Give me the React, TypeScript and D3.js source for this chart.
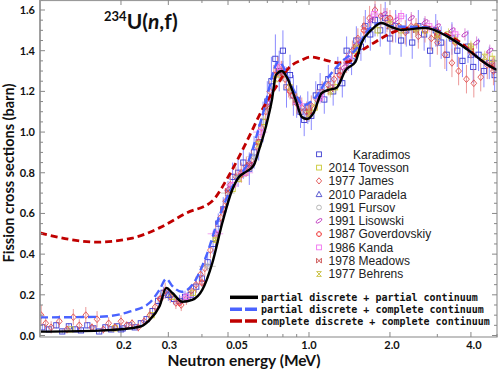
import React from 'react';
import * as d3 from 'd3';

const W = 500;
const H = 370;
const X0 = 40;
const X1 = 497;
const Y0 = 337;
const Y1 = 0;

// axis ticks
const xTickValues = [0.2, 0.3, 0.5, 1, 2, 4];
const xTickLabels = ['0.2', '0.3', '0.05', '1.0', '2.0', '4.0'];
const xLabelShift = [3, 1, 9, 0, 2, 3];
const xMinorValues = [0.2, 0.3, 0.4, 0.5, 0.6, 0.7, 0.8, 0.9, 1, 2, 3, 4, 5];
const yTickValues = [0, 0.2, 0.4, 0.6, 0.8, 1.0, 1.2, 1.4, 1.6];

// model curves [E (MeV), sigma (b)]
const partialPartial = [
  [0.1, 0.019], [0.1667, 0.024], [0.2344, 0.043], [0.2552, 0.076], [0.2779, 0.142],
  [0.2949, 0.234], [0.3106, 0.209], [0.338, 0.166], [0.368, 0.175], [0.401, 0.224],
  [0.437, 0.356], [0.476, 0.553], [0.518, 0.715], [0.55, 0.78], [0.575, 0.80],
  [0.6, 0.815], [0.625, 0.84], [0.6515, 0.911], [0.691, 1.025], [0.728, 1.157],
  [0.754, 1.281], [0.793, 1.3], [0.826, 1.271], [0.893, 1.157], [0.94, 1.074],
  [0.982, 1.064], [1.04, 1.094], [1.115, 1.192], [1.182, 1.207], [1.265, 1.217],
  [1.369, 1.305], [1.488, 1.345], [1.567, 1.438], [1.706, 1.502], [1.858, 1.536],
  [2.022, 1.517], [2.203, 1.502], [2.704, 1.512], [3.288, 1.468], [3.898, 1.404],
  [4.622, 1.33], [5.0, 1.305],
];

const partialComplete = [
  [0.1, 0.089], [0.1667, 0.092], [0.2152, 0.117], [0.2552, 0.16], [0.2779, 0.224],
  [0.2949, 0.278], [0.3106, 0.243], [0.336, 0.215], [0.368, 0.248], [0.414, 0.387],
  [0.4634, 0.584], [0.518, 0.731], [0.5983, 0.863], [0.669, 1.074], [0.7725, 1.345],
  [0.865, 1.222], [0.955, 1.133], [1.059, 1.172], [1.182, 1.271], [1.321, 1.345],
  [1.488, 1.404], [1.663, 1.502], [1.858, 1.536], [2.022, 1.52], [2.704, 1.515],
  [3.288, 1.47], [3.898, 1.405], [4.622, 1.33], [5.0, 1.305],
];

const completeComplete = [
  [0.1, 0.504], [0.1626, 0.459], [0.2207, 0.479], [0.2779, 0.529], [0.35, 0.602],
  [0.437, 0.661], [0.5046, 0.788], [0.5983, 0.976], [0.669, 1.108], [0.754, 1.222],
  [0.8411, 1.315], [0.94, 1.354], [1.01, 1.369], [1.15, 1.354], [1.288, 1.34],
  [1.402, 1.345], [1.527, 1.389], [1.765, 1.443], [2.022, 1.487], [2.339, 1.512],
  [2.704, 1.517], [3.097, 1.492], [3.672, 1.438], [4.355, 1.354], [5.0, 1.305],
];

// experiments [E, sigma, dSigma, dE]
const karadimos = [
  [0.102, 0.04, 0.015, 0], [0.108, 0.03, 0.012, 0], [0.115, 0.05, 0.015, 0], [0.121, 0.02, 0.01, 0],
  [0.128, 0.045, 0.015, 0], [0.135, 0.03, 0.012, 0], [0.142, 0.025, 0.01, 0], [0.15, 0.05, 0.015, 0],
  [0.158, 0.035, 0.012, 0], [0.166, 0.02, 0.01, 0], [0.175, 0.04, 0.012, 0], [0.184, 0.03, 0.01, 0],
  [0.193, 0.045, 0.012, 0], [0.203, 0.035, 0.01, 0], [0.214, 0.05, 0.012, 0], [0.225, 0.04, 0.012, 0],
  [0.237, 0.06, 0.015, 0], [0.249, 0.08, 0.015, 0], [0.262, 0.12, 0.02, 0], [0.275, 0.17, 0.025, 0],
  [0.288, 0.21, 0.03, 0], [0.3, 0.2, 0.03, 0], [0.315, 0.18, 0.03, 0], [0.33, 0.17, 0.03, 0],
  [0.346, 0.19, 0.03, 0], [0.363, 0.2, 0.03, 0], [0.381, 0.24, 0.03, 0], [0.4, 0.28, 0.04, 0],
  [0.42, 0.36, 0.04, 0], [0.44, 0.45, 0.05, 0], [0.46, 0.55, 0.05, 0], [0.48, 0.62, 0.06, 0],
  [0.5, 0.7, 0.06, 0], [0.52, 0.78, 0.07, 0], [0.545, 0.8, 0.07, 0], [0.57, 0.85, 0.08, 0],
  [0.6, 0.82, 0.08, 0], [0.625, 0.9, 0.08, 0], [0.65, 0.95, 0.09, 0], [0.675, 1.05, 0.1, 0],
  [0.7, 1.15, 0.1, 0], [0.725, 1.25, 0.12, 0], [0.75, 1.36, 0.12, 0], [0.775, 1.3, 0.1, 0],
  [0.8, 1.4, 0.1, 0], [0.825, 1.22, 0.1, 0], [0.85, 1.28, 0.1, 0], [0.875, 1.18, 0.1, 0],
  [0.9, 1.15, 0.08, 0], [0.93, 1.1, 0.08, 0], [0.96, 1.06, 0.08, 0], [0.99, 1.12, 0.08, 0],
  [1.02, 1.08, 0.07, 0], [1.06, 1.18, 0.07, 0], [1.1, 1.22, 0.07, 0], [1.14, 1.16, 0.07, 0],
  [1.18, 1.26, 0.07, 0], [1.23, 1.2, 0.07, 0], [1.28, 1.3, 0.07, 0], [1.33, 1.24, 0.07, 0],
  [1.38, 1.4, 0.07, 0], [1.44, 1.35, 0.07, 0], [1.5, 1.45, 0.07, 0], [1.56, 1.42, 0.07, 0],
  [1.62, 1.52, 0.08, 0], [1.69, 1.48, 0.08, 0], [1.76, 1.55, 0.08, 0], [1.84, 1.5, 0.08, 0],
  [1.92, 1.56, 0.08, 0], [2.0, 1.46, 0.08, 0], [2.1, 1.52, 0.08, 0], [2.2, 1.45, 0.08, 0],
  [2.3, 1.5, 0.08, 0], [2.42, 1.44, 0.08, 0], [2.55, 1.52, 0.08, 0], [2.68, 1.48, 0.08, 0],
  [2.82, 1.4, 0.08, 0], [2.96, 1.5, 0.08, 0], [3.1, 1.44, 0.08, 0], [3.25, 1.38, 0.08, 0],
  [3.4, 1.46, 0.08, 0], [3.56, 1.4, 0.08, 0], [3.72, 1.35, 0.08, 0], [3.9, 1.42, 0.08, 0],
  [4.08, 1.32, 0.08, 0], [4.27, 1.38, 0.08, 0], [4.47, 1.3, 0.08, 0], [4.68, 1.34, 0.08, 0],
  [4.9, 1.28, 0.08, 0],
];

const tovesson = [
  [0.13, 0.03, 0.005, 0], [0.19, 0.035, 0.005, 0], [0.26, 0.1, 0.01, 0], [0.31, 0.19, 0.01, 0],
  [0.37, 0.21, 0.01, 0], [0.45, 0.48, 0.02, 0], [0.52, 0.72, 0.02, 0], [0.58, 0.8, 0.02, 0],
  [0.68, 1.05, 0.03, 0], [0.79, 1.28, 0.03, 0], [0.9, 1.15, 0.03, 0], [1.05, 1.12, 0.03, 0],
  [1.25, 1.22, 0.03, 0], [1.5, 1.4, 0.03, 0], [1.8, 1.5, 0.03, 0], [2.2, 1.5, 0.03, 0],
  [2.7, 1.5, 0.03, 0], [3.3, 1.48, 0.03, 0], [4.0, 1.42, 0.03, 0], [4.8, 1.36, 0.03, 0],
];

const james = [
  [0.101, 0.1, 0.05, 0], [0.105, 0.06, 0.03, 0], [0.11, 0.04, 0.03, 0], [0.118, 0.07, 0.03, 0],
  [0.126, 0.03, 0.02, 0], [0.133, 0.09, 0.04, 0], [0.14, 0.05, 0.03, 0], [0.148, 0.1, 0.04, 0],
  [0.156, 0.04, 0.02, 0], [0.163, 0.08, 0.04, 0], [0.172, 0.03, 0.02, 0], [0.18, 0.06, 0.03, 0],
  [0.19, 0.04, 0.02, 0], [0.2, 0.07, 0.03, 0], [0.21, 0.05, 0.02, 0], [0.22, 0.06, 0.02, 0],
  [0.232, 0.04, 0.02, 0], [0.244, 0.07, 0.02, 0], [0.256, 0.1, 0.03, 0], [0.268, 0.14, 0.03, 0],
  [0.28, 0.18, 0.03, 0], [0.292, 0.22, 0.04, 0], [0.305, 0.19, 0.03, 0], [0.32, 0.16, 0.03, 0],
  [0.335, 0.15, 0.03, 0], [0.35, 0.18, 0.03, 0], [0.365, 0.22, 0.03, 0], [0.38, 0.25, 0.04, 0],
  [0.395, 0.3, 0.04, 0], [0.41, 0.33, 0.04, 0], [0.43, 0.42, 0.04, 0], [0.45, 0.5, 0.05, 0],
  [0.47, 0.58, 0.05, 0], [0.49, 0.66, 0.05, 0], [0.51, 0.74, 0.05, 0], [0.535, 0.78, 0.05, 0],
  [0.56, 0.8, 0.05, 0], [0.585, 0.83, 0.05, 0], [0.61, 0.86, 0.05, 0], [0.64, 0.93, 0.05, 0],
  [0.665, 1.02, 0.05, 0], [0.69, 1.1, 0.05, 0], [0.715, 1.2, 0.05, 0], [0.74, 1.28, 0.05, 0],
  [0.765, 1.32, 0.05, 0], [0.79, 1.3, 0.05, 0], [0.815, 1.26, 0.05, 0], [0.84, 1.22, 0.05, 0],
  [0.87, 1.18, 0.05, 0], [0.9, 1.14, 0.05, 0], [0.94, 1.12, 0.05, 0], [0.98, 1.1, 0.05, 0],
  [1.02, 1.13, 0.05, 0], [1.07, 1.16, 0.05, 0], [1.12, 1.2, 0.05, 0], [1.18, 1.23, 0.05, 0],
  [1.24, 1.26, 0.05, 0], [1.31, 1.3, 0.05, 0], [1.38, 1.34, 0.05, 0], [1.45, 1.4, 0.05, 0],
  [1.52, 1.46, 0.05, 0], [1.6, 1.52, 0.05, 0], [1.68, 1.56, 0.06, 0], [1.76, 1.6, 0.06, 0],
  [1.85, 1.57, 0.06, 0], [1.95, 1.55, 0.06, 0], [2.05, 1.5, 0.06, 0], [2.16, 1.52, 0.06, 0],
  [2.28, 1.49, 0.06, 0], [2.4, 1.52, 0.06, 0], [2.55, 1.47, 0.06, 0], [2.7, 1.5, 0.06, 0],
  [2.85, 1.46, 0.06, 0], [3.0, 1.44, 0.06, 0], [3.2, 1.38, 0.07, 0], [3.4, 1.34, 0.07, 0],
  [3.6, 1.3, 0.07, 0], [3.85, 1.26, 0.07, 0], [4.1, 1.24, 0.07, 0], [4.35, 1.27, 0.07, 0],
  [4.6, 1.33, 0.07, 0], [4.85, 1.3, 0.07, 0],
];

const paradela = [
  [0.2, 0.03, 0.01, 0], [0.3, 0.2, 0.02, 0], [0.45, 0.5, 0.03, 0], [0.6, 0.85, 0.04, 0],
  [0.8, 1.3, 0.05, 0], [1.0, 1.1, 0.05, 0], [1.4, 1.35, 0.05, 0], [2.0, 1.52, 0.05, 0],
  [3.0, 1.47, 0.05, 0], [4.0, 1.38, 0.05, 0],
];

const fursov = [
  [0.42, 0.34, 0.02, 0.03], [0.5, 0.7, 0.02, 0.03], [0.55, 0.78, 0.02, 0.03], [0.62, 0.88, 0.02, 0.03],
  [0.7, 1.12, 0.03, 0.03], [0.8, 1.28, 0.03, 0.03], [0.9, 1.16, 0.03, 0.03], [1.0, 1.1, 0.03, 0.04],
  [1.2, 1.22, 0.03, 0.05], [1.5, 1.42, 0.03, 0.05], [2.0, 1.52, 0.03, 0.06], [2.5, 1.5, 0.03, 0.08],
  [3.0, 1.46, 0.03, 0.1],
];

const lisowski = [
  [0.5, 0.72, 0.02, 0], [0.6, 0.84, 0.02, 0], [0.7, 1.14, 0.03, 0], [0.8, 1.3, 0.03, 0],
  [0.9, 1.15, 0.03, 0], [1.0, 1.09, 0.03, 0], [1.1, 1.18, 0.03, 0], [1.2, 1.22, 0.03, 0],
  [1.35, 1.32, 0.03, 0], [1.5, 1.43, 0.03, 0], [1.7, 1.55, 0.03, 0], [1.9, 1.58, 0.03, 0],
  [2.1, 1.55, 0.03, 0], [2.4, 1.56, 0.03, 0], [2.7, 1.54, 0.03, 0], [3.0, 1.52, 0.03, 0],
  [3.4, 1.5, 0.03, 0], [3.8, 1.48, 0.03, 0], [4.2, 1.44, 0.03, 0], [4.7, 1.4, 0.03, 0],
];

const goverdovskiy = [
  [0.28, 0.18, 0.02, 0], [0.33, 0.16, 0.02, 0], [0.4, 0.26, 0.02, 0], [0.48, 0.62, 0.03, 0],
  [0.56, 0.79, 0.03, 0], [0.65, 0.95, 0.03, 0], [0.75, 1.28, 0.04, 0], [0.85, 1.2, 0.04, 0],
  [1.0, 1.1, 0.04, 0], [1.3, 1.28, 0.04, 0], [1.6, 1.5, 0.04, 0], [2.0, 1.56, 0.04, 0],
  [2.5, 1.52, 0.04, 0], [3.0, 1.48, 0.04, 0], [3.5, 1.44, 0.04, 0], [4.0, 1.4, 0.04, 0],
];

const kanda = [
  [0.35, 0.19, 0.02, 0.02], [0.45, 0.5, 0.02, 0.03], [0.52, 0.74, 0.02, 0.03], [0.58, 0.8, 0.02, 0.04],
  [0.66, 1.0, 0.03, 0.04], [0.78, 1.32, 0.03, 0.04], [0.92, 1.14, 0.03, 0.05], [1.1, 1.17, 0.03, 0.05],
  [1.4, 1.36, 0.03, 0.06], [1.75, 1.58, 0.03, 0.08], [2.2, 1.57, 0.03, 0.1], [2.8, 1.52, 0.03, 0.12],
  [3.5, 1.48, 0.03, 0.15],
];

const meadows = [
  [0.5, 0.71, 0.02, 0], [0.6, 0.84, 0.02, 0], [0.7, 1.12, 0.03, 0], [0.8, 1.29, 0.03, 0],
  [0.9, 1.16, 0.03, 0], [1.0, 1.1, 0.03, 0], [1.2, 1.21, 0.03, 0], [1.5, 1.42, 0.03, 0],
  [2.0, 1.52, 0.03, 0], [2.5, 1.5, 0.03, 0], [3.0, 1.47, 0.03, 0], [4.0, 1.4, 0.03, 0],
  [4.8, 1.33, 0.03, 0],
];

const behrens = [
  [0.45, 0.47, 0.02, 0], [0.55, 0.77, 0.02, 0], [0.65, 0.94, 0.02, 0], [0.75, 1.26, 0.03, 0],
  [0.85, 1.22, 0.03, 0], [1.0, 1.09, 0.03, 0], [1.2, 1.2, 0.03, 0], [1.5, 1.41, 0.03, 0],
  [2.0, 1.53, 0.03, 0], [2.5, 1.51, 0.03, 0], [3.0, 1.48, 0.03, 0], [3.5, 1.45, 0.03, 0],
  [4.0, 1.41, 0.03, 0], [4.5, 1.37, 0.03, 0],
];

const experiments = [
  { name: 'Karadimos', data: karadimos, shape: 'square', color: '#3a3ad0', bar: '#6f6fff' },
  { name: '2014 Tovesson', data: tovesson, shape: 'square', color: '#c8c832', bar: '#d8d860' },
  { name: '1977 James', data: james, shape: 'diamond', color: '#e05050', bar: '#e88080' },
  { name: '2010 Paradela', data: paradela, shape: 'triangle', color: '#4a4acc', bar: '#7a7ae0' },
  { name: '1991 Fursov', data: fursov, shape: 'circle', color: '#b0b0b0', bar: '#c0c0c0' },
  { name: '1991 Lisowski', data: lisowski, shape: 'ellipse', color: '#c040c0', bar: '#d070d0' },
  { name: '1987 Goverdovskiy', data: goverdovskiy, shape: 'plus', color: '#f04848', bar: '#f07878' },
  { name: '1986 Kanda', data: kanda, shape: 'square', color: '#f070f0', bar: '#f090f0' },
  { name: '1978 Meadows', data: meadows, shape: 'bowtie', color: '#c84848', bar: '#d87878' },
  { name: '1977 Behrens', data: behrens, shape: 'hourglass', color: '#c8c040', bar: '#d8d070' },
];

const models = [
  { name: 'partial discrete + partial continuum', data: partialPartial, color: '#000000', dash: null, width: 2.4 },
  { name: 'partial discrete + complete continuum', data: partialComplete, color: '#4a63ff', dash: '8,4', width: 2.4 },
  { name: 'complete discrete + complete continuum', data: completeComplete, color: '#c00000', dash: '7,4', width: 2.8 },
];

function Marker({ shape, color, s = 2.6 }) {
  const common = { fill: 'none', stroke: color, strokeWidth: 0.9 };
  switch (shape) {
    case 'square':
      return <rect x={-s} y={-s} width={2 * s} height={2 * s} {...common} />;
    case 'diamond':
      return <path d={`M0,${-s * 1.3}L${s * 1.1},0L0,${s * 1.3}L${-s * 1.1},0Z`} {...common} />;
    case 'triangle':
      return <path d={`M0,${-s * 1.2}L${s * 1.2},${s}L${-s * 1.2},${s}Z`} {...common} />;
    case 'circle':
      return <circle r={s} {...common} />;
    case 'ellipse':
      return <ellipse rx={s * 1.4} ry={s * 0.6} transform="rotate(-35)" {...common} />;
    case 'plus': {
      const a = s * 0.45;
      return (
        <path
          d={`M${-a},${-s}H${a}V${-a}H${s}V${a}H${a}V${s}H${-a}V${a}H${-s}V${-a}H${-a}Z`}
          {...common}
        />
      );
    }
    case 'bowtie':
      return <path d={`M${-s},${-s}L${s},${s}L${s},${-s}L${-s},${s}Z`} {...common} />;
    case 'hourglass':
      return <path d={`M${-s},${-s}L${s},${-s}L${-s},${s}L${s},${s}Z`} {...common} />;
    default:
      return null;
  }
}

export default function App() {
  const x = d3.scaleLog().domain([0.1, 5]).range([X0, X1]);
  const y = d3.scaleLinear().domain([0, 1.6]).range([335.5, 10]);

  const line = d3
    .line()
    .x((d) => x(d[0]))
    .y((d) => y(d[1]))
    .curve(d3.curveMonotoneX);

  const yMinor = d3.range(0, 1.66, 0.05);

  return (
    <svg
      width={W}
      height={H}
      style={{ position: 'absolute', left: 0, top: 0, background: '#fff' }}
      fontFamily="Lato, 'Liberation Sans', sans-serif"
    >
      <defs>
        <clipPath id="plot">
          <rect x={X0} y={Y1} width={X1 - X0} height={Y0 - Y1} />
        </clipPath>
      </defs>

      {/* experimental points */}
      <g clipPath="url(#plot)">
        {experiments.map((s) => (
          <g key={s.name}>
            {s.data.map((d, i) => {
              const cx = x(d[0]);
              const cy = y(d[1]);
              return (
                <g key={i}>
                  <line x1={cx} x2={cx} y1={y(d[1] - d[2])} y2={y(d[1] + d[2])} stroke={s.bar} strokeWidth={1} opacity={0.8} />
                  {d[3] > 0 && (
                    <line x1={x(d[0] - d[3])} x2={x(d[0] + d[3])} y1={cy} y2={cy} stroke={s.bar} strokeWidth={1} opacity={0.8} />
                  )}
                  <g transform={`translate(${cx},${cy})`}>
                    <Marker shape={s.shape} color={s.color} />
                  </g>
                </g>
              );
            })}
          </g>
        ))}
      </g>

      {/* model curves */}
      <g clipPath="url(#plot)">
        {[models[2], models[1], models[0]].map((m) => (
          <path
            key={m.name}
            d={line(m.data)}
            fill="none"
            stroke={m.color}
            strokeWidth={m.width}
            strokeDasharray={m.dash || undefined}
          />
        ))}
      </g>

      {/* frame */}
      <rect x={X0} y={Y1 + 0.5} width={X1 - X0} height={Y0 - Y1 - 0.5} fill="none" stroke="#9a9a9a" strokeWidth={1.2} />
      <line x1={X0} x2={X0} y1={Y1} y2={Y0} stroke="#a0a0a0" strokeWidth={2} />

      {/* x ticks */}
      {xMinorValues.map((v) => {
        const major = xTickValues.includes(v);
        const len = major ? 5 : 3;
        return (
          <g key={`xt${v}`} stroke="#888" strokeWidth={1}>
            <line x1={x(v)} x2={x(v)} y1={Y0} y2={Y0 - len} />
            <line x1={x(v)} x2={x(v)} y1={Y1} y2={Y1 + len} />
          </g>
        );
      })}
      {xTickValues.map((v, i) => (
        <text key={`xl${v}`} x={x(v) + xLabelShift[i]} y={349} textAnchor="middle" fontSize={11} fontWeight="bold" fill="#111">
          {xTickLabels[i]}
        </text>
      ))}

      {/* y ticks */}
      {yMinor.map((v, i) => {
        const len = i % 4 === 0 ? 5 : 3;
        return (
          <g key={`yt${i}`} stroke="#888" strokeWidth={1}>
            <line x1={X0} x2={X0 + len} y1={y(v)} y2={y(v)} />
            <line x1={X1} x2={X1 - len} y1={y(v)} y2={y(v)} />
          </g>
        );
      })}
      {yTickValues.map((v) => (
        <text key={`yl${v}`} x={35} y={y(v) + 4} textAnchor="end" fontSize={11} fontWeight="bold" fill="#111">
          {v.toFixed(1)}
        </text>
      ))}

      {/* axis titles */}
      <text x={244} y={366} textAnchor="middle" fontSize={15.5} fontWeight="bold" fill="#111">
        Neutron energy (MeV)
      </text>
      <text
        transform="translate(14,173) rotate(-90)"
        textAnchor="middle"
        fontSize={14.5}
        fontWeight="bold"
        fill="#111"
      >
        Fission cross sections (barn)
      </text>

      {/* title */}
      <text x={104} y={29} fontSize={21} fontWeight="bold" fill="#111">
        <tspan fontSize={13} dy={-8}>234</tspan>
        <tspan dy={8}>U(</tspan>
        <tspan fontStyle="italic">n</tspan>
        <tspan>,f)</tspan>
      </text>

      {/* experiment legend */}
      {experiments.map((s, i) => {
        const cy = 154.3 + i * 13.3;
        return (
          <g key={`lg${s.name}`}>
            <g transform={`translate(319,${cy})`}>
              <Marker shape={s.shape} color={s.color} s={2.4} />
            </g>
            <text
              x={i === 0 ? 353 : 328.5}
              y={cy + 4.3}
              fontSize={12}
              fontFamily="'Liberation Sans', Arial, sans-serif"
              fill="#222"
            >
              {s.name}
            </text>
          </g>
        );
      })}

      {/* model legend */}
      {models.map((m, i) => {
        const cy = 297.3 + i * 11.9;
        return (
          <g key={`ml${i}`}>
            <line
              x1={230}
              x2={258}
              y1={cy}
              y2={cy}
              stroke={m.color}
              strokeWidth={3.5}
              strokeDasharray={m.dash ? '12,3' : undefined}
            />
            <text
              x={261}
              y={cy + 3.5}
              fontSize={10}
              fontWeight="bold"
              fontFamily="'DejaVu Sans Mono', monospace"
              fill="#111"
            >
              {m.name}
            </text>
          </g>
        );
      })}
    </svg>
  );
}
